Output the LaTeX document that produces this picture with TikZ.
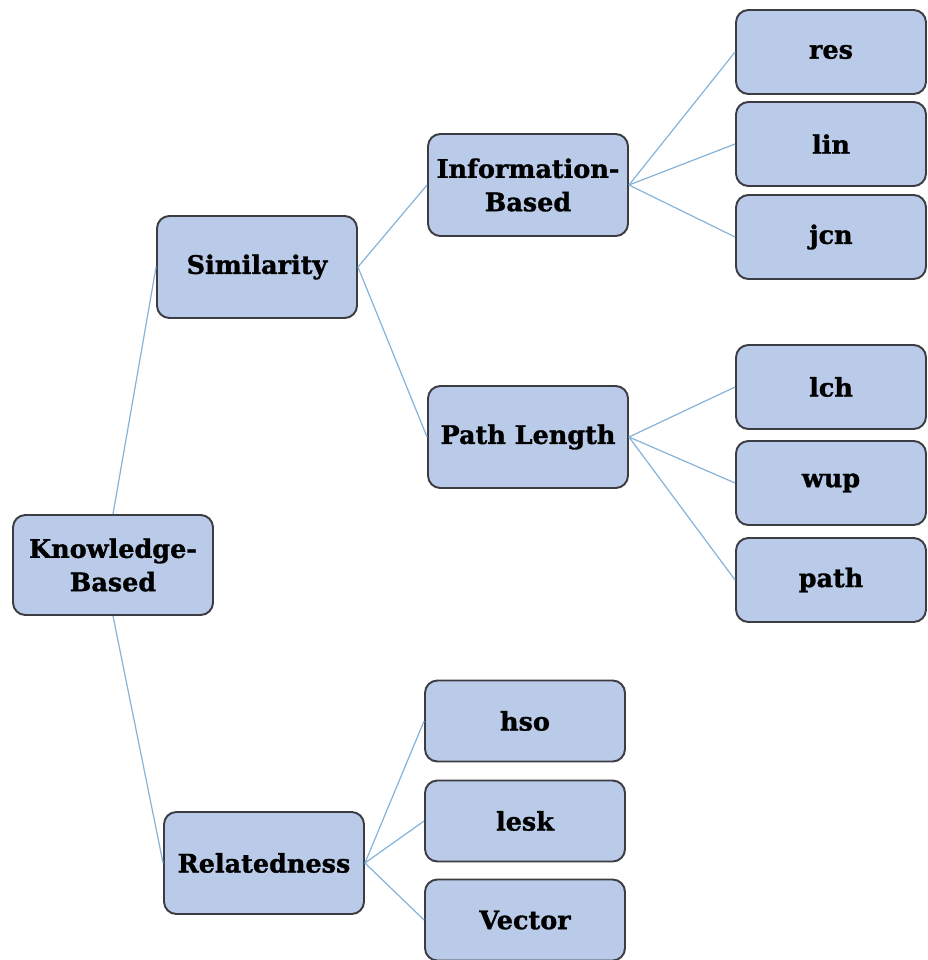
\documentclass[tikz,border=0pt]{standalone}
\usepackage{fontspec}
\setmainfont{DejaVu Serif}[BoldFeatures={FakeBold=1.2}]
\usepackage{tikz}
\usetikzlibrary{positioning}
\definecolor{boxFill}{RGB}{185,203,232}
\definecolor{boxLine}{RGB}{60,60,66}
\definecolor{linkBlue}{RGB}{135,180,216}

\begin{document}
\begin{tikzpicture}[x=0.02cm,y=-0.02cm,
    box/.style={draw=boxLine,line width=1.1pt,fill=boxFill,rounded corners=7pt,
      minimum width=4cm,minimum height=2.04cm,align=center,inner sep=1pt,
      font=\fontsize{14.5}{19}\selectfont\bfseries},
    leaf/.style={box,minimum width=3.8cm,minimum height=1.68cm},
    link/.style={linkBlue,line width=0.7pt}]
  \useasboundingbox (0,0) rectangle (927,960);
  % Root and first level
  \node[box,minimum height=2cm] (kb) at (113,565) {Knowledge-\\Based};
  \node[box] (sim) at (257,267) {Similarity};
  \node[box] (rel) at (264,863) {Relatedness};
  % Similarity branches
  \node[box] (info) at (528,185) {Information-\\Based};
  \node[box] (plen) at (528,437) {Path Length};
  % Leaves
  \node[leaf] (res) at (831,52) {res};
  \node[leaf] (lin) at (831,144) {lin};
  \node[leaf] (jcn) at (831,237) {jcn};
  \node[leaf] (lch) at (831,387) {lch};
  \node[leaf] (wup) at (831,483) {wup};
  \node[leaf] (path) at (831,580) {path};
  \node[leaf,minimum width=4cm,minimum height=1.62cm] (hso) at (525,721) {hso};
  \node[leaf,minimum width=4cm,minimum height=1.62cm] (lesk) at (525,821) {lesk};
  \node[leaf,minimum width=4cm,minimum height=1.62cm] (vec) at (525,920) {Vector};
  % Connectors
  \draw[link] (kb.north) -- (sim.west);
  \draw[link] (kb.south) -- (rel.west);
  \foreach \c in {info,plen} \draw[link] (sim.east) -- (\c.west);
  \foreach \c in {res,lin,jcn} \draw[link] (info.east) -- (\c.west);
  \foreach \c in {lch,wup,path} \draw[link] (plen.east) -- (\c.west);
  \foreach \c in {hso,lesk,vec} \draw[link] (rel.east) -- (\c.west);
\end{tikzpicture}
\end{document}
